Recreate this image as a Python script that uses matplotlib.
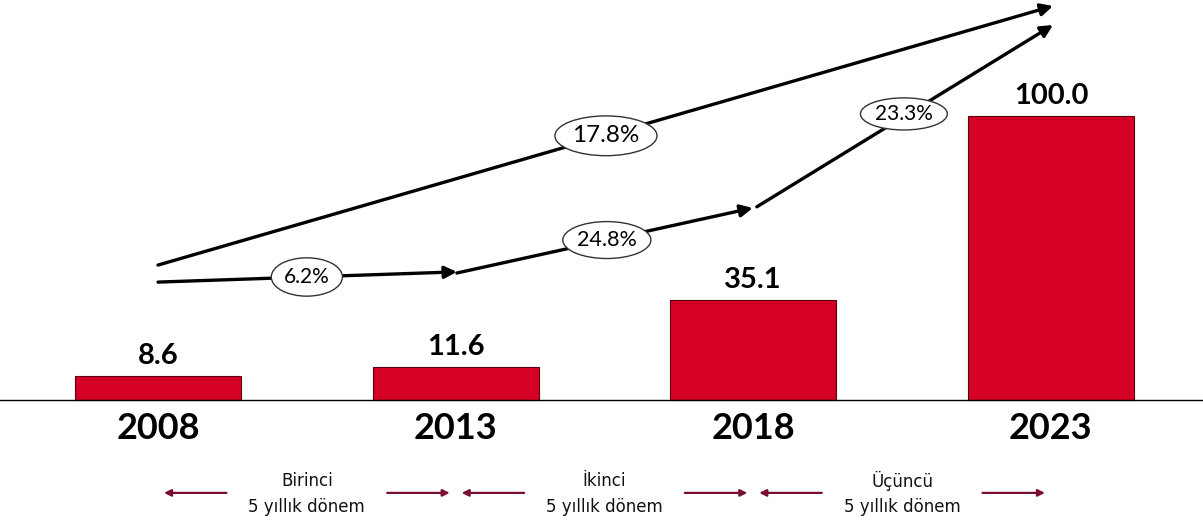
import matplotlib
matplotlib.use("Agg")
import matplotlib.pyplot as plt
from matplotlib.patches import Ellipse

years = ["2008", "2013", "2018", "2023"]
values = [8.6, 11.6, 35.1, 100.0]
period_names = ["Birinci", "İkinci", "Üçüncü"]
period_sub = "5 yıllık dönem"
growth_total = "17.8%"
growth_steps = ["6.2%", "24.8%", "23.3%"]

BAR_RED = "#D50025"
ARROW_RED = "#7A0E2E"

fig = plt.figure(figsize=(12.03, 5.23), dpi=100)
ax = fig.add_axes([0, 0, 1, 1])
ax.set_xlim(-0.531, 3.511)
ax.set_ylim(-43.3, 140.8)
ax.axis("off")

x = list(range(len(years)))
bars = ax.bar(x, values, width=0.558, color=BAR_RED, edgecolor="#5a0010", linewidth=0.8, zorder=2)
ax.axhline(0, color="black", lw=1.0, zorder=3)

# value labels and year labels
for xi, v in zip(x, values):
    ax.annotate(f"{v:.1f}", (xi, v), xytext=(0, 5), textcoords="offset points",
                ha="center", va="bottom", fontsize=21, fontweight="bold",
                family="Lato", color="black")
for xi, yr in zip(x, years):
    ax.text(xi, -9.9, yr, ha="center", va="center", fontsize=26,
            fontweight="bold", family="Lato", color="black")

# growth arrows
def arrow(p0, p1, **kw):
    ax.annotate("", xy=p1, xytext=p0,
                arrowprops=dict(arrowstyle="-|>", color="black", lw=2.4,
                                mutation_scale=18, shrinkA=0, shrinkB=0, **kw),
                zorder=4)

arrow((0, 47.5), (3.007, 138.7))
arrow((0, 41.5), (1.004, 45.1))
arrow((1.004, 44.7), (1.998, 67.6))
arrow((2.012, 68.0), (3.007, 132.0))

def oval(cx, cy, w, h, label, size):
    ax.add_patch(Ellipse((cx, cy), w, h, facecolor="white", edgecolor="#333333",
                         lw=1.0, zorder=5))
    ax.text(cx, cy, label, ha="center", va="center", fontsize=size,
            family="Lato", color="black", zorder=6)

oval(1.505, 93.0, 0.343, 14.0, growth_total, 17.5)
oval(0.50, 43.3, 0.239, 13.5, growth_steps[0], 15)
oval(1.508, 56.3, 0.296, 13.0, growth_steps[1], 15.5)
oval(2.506, 100.7, 0.292, 11.3, growth_steps[2], 15)

# period labels with arrows
for i, name in enumerate(period_names):
    cx = i + 0.5
    ax.text(cx, -28.5, name, ha="center", va="center", fontsize=12,
            family="DejaVu Sans", color="#111111")
    ax.text(cx, -37.7, period_sub, ha="center", va="center", fontsize=12,
            family="DejaVu Sans", color="#111111")
    for d in (-1, 1):
        ax.annotate("", xy=(cx + d * 0.48, -32.7), xytext=(cx + d * 0.27, -32.7),
                    arrowprops=dict(arrowstyle="-|>", color=ARROW_RED, lw=1.6,
                                    mutation_scale=10, shrinkA=0, shrinkB=0))

fig.savefig("out.png", dpi=100)
